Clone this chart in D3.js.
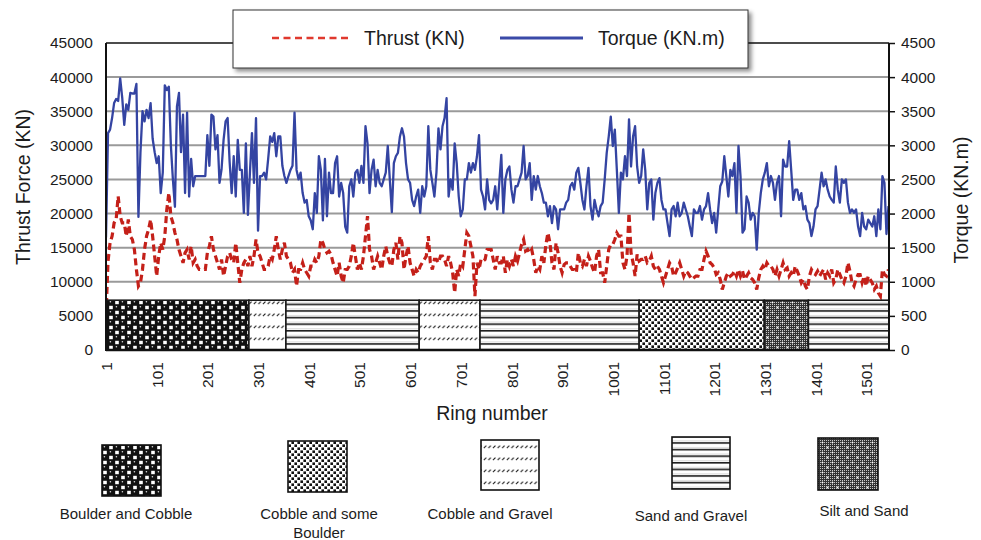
<!DOCTYPE html>
<html>
<head>
<meta charset="utf-8">
<script src="https://cdn.jsdelivr.net/npm/d3@7"></script>
<style>
  body { margin: 0; background: #fff; }
  text { font-family: "Liberation Sans", Arial, Helvetica, sans-serif; fill: #1c1c1c; }
</style>
</head>
<body>
<svg id="chart" width="981" height="540"></svg>
<script>
// Rings are sampled every 4 rings, starting at ring 1.
const firstRing = 1;
const ringStep = 4;
const lastRing = 1546;

// Cutter-head torque (KN.m), right axis
const torque = [
  1650, 3180, 3230, 3400, 3620, 3680, 3650, 3980, 3700, 3300,
  3600, 3520, 3770, 3760, 3760, 3900, 1950, 2900, 3500, 3350,
  3520, 3400, 3620, 3100, 2900, 2740, 2840, 2300, 2600, 3880,
  3810, 3860, 3000, 2500, 2100, 3570, 3770, 2900, 3450, 2300,
  3480, 2250, 2800, 2400, 2550, 2550, 2550, 2550, 2550, 2550,
  3150, 2700, 3450, 3420, 2940, 3150, 2450, 2650, 3080, 3350,
  3400, 2750, 2300, 2840, 2250, 3080, 2640, 2640, 2010, 3030,
  1980, 2600, 3180, 2450, 3400, 1750, 2550, 2550, 2600, 2500,
  2800, 3130, 3050, 3180, 2840, 3130, 3130, 2700, 2550, 2450,
  2550, 2640, 2700, 3480, 2640, 2500, 2600, 2300, 2160, 2200,
  1960, 1900, 1770, 2300, 2010, 2840, 2640, 1900, 2800, 1960,
  2600, 2300, 2300, 2740, 2840, 2250, 2450, 2300, 1810, 1720,
  2400, 2500, 2250, 2600, 2640, 2450, 2700, 2450, 3280, 3030,
  2300, 2640, 2790, 2400, 2640, 2450, 2400, 2500, 2600, 2990,
  2500, 2020, 2740, 2840, 2890, 3130, 3250, 3130, 2740, 2500,
  2450, 2200, 2110, 2250, 2350, 2010, 2400, 2250, 2400, 3280,
  2640, 2450, 2250, 2600, 3250, 2940, 3280, 3400, 3690, 2250,
  2500, 2350, 3030, 2740, 2250, 1960, 2060, 2500, 2500, 2740,
  2600, 2740, 2640, 2840, 3150, 2350, 2250, 2060, 2500, 2200,
  2150, 2200, 2400, 2060, 2450, 2860, 2010, 2500, 2640, 2690,
  2350, 2160, 2400, 2400, 2500, 2600, 2990, 2500, 2550, 2740,
  2200, 2550, 2350, 2550, 2400, 2300, 2160, 2160, 1960, 2110,
  1860, 2110, 2060, 1770, 2060, 2060, 2060, 2160, 2200, 2400,
  2450, 2350, 2600, 2670, 2450, 2200, 2060, 2400, 2670, 2110,
  1910, 2200, 2060, 1960, 2110, 2160, 2500, 2890, 3130, 3420,
  2990, 3230, 2640, 2010, 2600, 2500, 2840, 2550, 3380, 2690,
  3130, 3280, 2690, 2450, 2550, 2940, 2640, 2060, 2450, 2500,
  1910, 2300, 2450, 2520, 2200, 2060, 2060, 1860, 1670, 2060,
  2110, 1960, 2160, 1960, 2010, 2160, 2060, 1960, 1810, 1670,
  2060, 2010, 2010, 2110, 1910, 2060, 2110, 2300, 2060, 1860,
  2010, 1720, 2060, 2400, 2470, 2840, 2550, 2250, 2640, 2550,
  2740, 2010, 2990, 2550, 1720, 1770, 2250, 2160, 1910, 2010,
  1960, 1470, 2010, 2300, 2500, 2600, 2740, 2400, 2550, 2450,
  2200, 2450, 2550, 1960, 2790, 2690, 2690, 3060, 2640, 2200,
  2350, 2350, 2200, 2300, 2060, 2110, 1910, 1860, 1670, 1810,
  2060, 2110, 2350, 2600, 2400, 2500, 2350, 2250, 2200, 2160,
  2690, 2350, 2160, 2500, 2450, 2500, 2160, 2010, 2060, 2010,
  2060, 1810, 1670, 2010, 1810, 1770, 1910, 1860, 1810, 1960,
  1670, 2060, 1770, 2550, 2450, 1700, 2110
];

// Total thrust force (KN), left axis
const thrust = [
  5000, 13000, 15710, 16680, 18630, 19120, 22540, 19610, 18630, 18630,
  16680, 19120, 16680, 16200, 14730, 11800, 9370, 9850, 11800, 14730,
  16680, 17660, 19120, 16680, 13760, 10830, 13760, 15710, 14730, 16680,
  20590, 23030, 19610, 18630, 17170, 16200, 14730, 13760, 12780, 14240,
  14730, 13270, 15220, 12780, 13270, 12290, 11800, 11800, 11800, 11800,
  14240, 15220, 16680, 14730, 13760, 12780, 11800, 13270, 10830, 12290,
  13760, 14240, 13270, 12780, 15710, 12780, 9850, 11800, 12780, 13270,
  12290, 13760, 12290, 13760, 16200, 14240, 13760, 12780, 11800, 11800,
  12290, 13760, 13270, 14730, 16680, 14730, 13270, 14730, 15710, 13760,
  13270, 12780, 11320, 11800, 9370, 11800, 11800, 12780, 11800, 11320,
  10830, 12290, 12290, 13270, 12780, 13760, 16200, 15710, 14730, 14240,
  14490, 14000, 12780, 11800, 10830, 12780, 10830, 9850, 11800, 11800,
  12290, 13760, 15710, 13760, 11800, 12780, 11800, 13760, 16680, 19610,
  14730, 13760, 11800, 12780, 13760, 12780, 11800, 13760, 15220, 13760,
  12780, 12290, 14730, 15710, 13270, 16680, 15710, 11800, 13760, 15220,
  12780, 11800, 10830, 11800, 11320, 12290, 12780, 13270, 13760, 16680,
  12780, 11800, 13270, 13270, 12780, 13760, 13760, 13270, 12290, 13760,
  12780, 11320, 8390, 11800, 10830, 12780, 12290, 14730, 17170, 16680,
  15220, 13760, 7900, 12780, 11800, 13270, 13030, 13270, 14730, 14730,
  14730, 13270, 11800, 13760, 12780, 12780, 13760, 11320, 13270, 12290,
  13270, 12290, 13760, 13030, 14240, 15470, 16200, 14490, 14730, 14240,
  14730, 13270, 11320, 12290, 11800, 13760, 12780, 15470, 17170, 15710,
  12780, 11800, 15710, 14240, 12290, 11320, 12530, 12780, 12780, 12290,
  11800, 11800, 11320, 14240, 12780, 12290, 13270, 12290, 13760, 13030,
  12040, 11320, 13760, 14730, 11320, 11320, 9850, 12290, 14730, 15470,
  15470, 16200, 17170, 16680, 16680, 12780, 11800, 13760, 20100, 14240,
  12780, 10830, 14000, 13030, 13270, 13270, 13760, 12780, 13030, 13760,
  12290, 11800, 12290, 11800, 10830, 9850, 10830, 11800, 12780, 12290,
  10830, 11320, 12040, 12780, 11800, 10830, 11570, 11320, 10830, 10340,
  10590, 10830, 10830, 11800, 11800, 13270, 14490, 13760, 12780, 12530,
  12040, 11070, 11320, 10340, 8880, 9850, 10830, 11320, 10830, 11070,
  11570, 10830, 11800, 10830, 11570, 10340, 10830, 11320, 10590, 10340,
  9850, 8880, 10590, 11800, 12290, 11800, 12780, 12290, 12290, 11800,
  10830, 11800, 10830, 11800, 12780, 11800, 12040, 10830, 11320, 10830,
  12290, 11570, 10830, 9850, 10340, 9370, 8880, 10830, 11800, 11320,
  11070, 11570, 10830, 11320, 11800, 10340, 11320, 10830, 11800, 9850,
  10340, 11800, 11070, 10340, 9850, 10830, 12780, 11570, 9850, 9370,
  10340, 11070, 11070, 9850, 10830, 9370, 10830, 10340, 9850, 8880,
  9370, 8390, 7900, 11800, 11070, 10830, 11800
];

// Axis ticks
const thrustTicks = [0, 5000, 10000, 15000, 20000, 25000, 30000, 35000, 40000, 45000];
const torqueTicks = [0, 500, 1000, 1500, 2000, 2500, 3000, 3500, 4000, 4500];
const ringTicks = [1, 101, 201, 301, 401, 501, 601, 701, 801, 901, 1001, 1101, 1201, 1301, 1401, 1501];

// Geological profile along the drive (ring ranges)
const strataSoil = ["Boulder and Cobble", "Cobble and Gravel", "Sand and Gravel", "Cobble and Gravel",
                    "Sand and Gravel", "Cobble and some Boulder", "Silt and Sand", "Sand and Gravel"];
const strataFrom = [1, 283, 356, 619, 739, 1053, 1300, 1387];
const strataTo   = [283, 356, 619, 739, 1053, 1300, 1387, 1546];
const strataBandTop = 7300; // band height, in thrust units

// Soil key
const soilNames = ["Boulder and Cobble", "Cobble and some Boulder", "Cobble and Gravel", "Sand and Gravel", "Silt and Sand"];
const soilLabelLines = [["Boulder and Cobble"], ["Cobble and some", "Boulder"], ["Cobble and Gravel"], ["Sand and Gravel"], ["Silt and Sand"]];

const seriesNames = ["Thrust (KN)", "Torque (KN.m)"];

// ---------------------------------------------------------------
const svg = d3.select("#chart");
const plot = { left: 106, right: 889, top: 43, bottom: 350 };

const x = d3.scaleLinear().domain([firstRing, lastRing]).range([plot.left, plot.right]);
const yL = d3.scaleLinear().domain([0, 45000]).range([plot.bottom, plot.top]);
const yR = d3.scaleLinear().domain([0, 4500]).range([plot.bottom, plot.top]);

const RED = "#c42019", BLUE = "#3444a2";

// ---------- pattern fills for the soil types ----------
const defs = svg.append("defs");

// fine dotted texture used inside the silt pattern
const fine = defs.append("pattern").attr("id", "fine").attr("patternUnits", "userSpaceOnUse")
  .attr("width", 2).attr("height", 2);
fine.append("rect").attr("width", 2).attr("height", 2).attr("fill", "#333");
fine.append("rect").attr("width", 1).attr("height", 1).attr("fill", "#c8c8c8");

function addPattern(id, w, h, draw) {
  const p = defs.append("pattern").attr("id", id).attr("patternUnits", "userSpaceOnUse")
    .attr("width", w).attr("height", h);
  draw(p);
}

// Boulder and Cobble: dark balls with white gaps
addPattern("pat-bc", 12, 10, p => {
  p.append("rect").attr("width", 12).attr("height", 10).attr("fill", "#111");
  p.append("rect").attr("x", 7.2).attr("y", 0.8).attr("width", 3.6).attr("height", 3.4).attr("fill", "#fff");
  p.append("rect").attr("x", 1.2).attr("y", 5.8).attr("width", 3.6).attr("height", 3.4).attr("fill", "#fff");
  p.append("circle").attr("cx", 2.4).attr("cy", 1.8).attr("r", 0.8).attr("fill", "#ddd");
  p.append("circle").attr("cx", 8.4).attr("cy", 6.8).attr("r", 0.8).attr("fill", "#ddd");
});

// Cobble and some Boulder: staggered black squares
addPattern("pat-cb", 6, 6, p => {
  p.append("rect").attr("width", 6).attr("height", 6).attr("fill", "#fff");
  p.append("rect").attr("x", 0.4).attr("y", 0.4).attr("width", 2.6).attr("height", 2.6).attr("fill", "#111");
  p.append("rect").attr("x", 3.4).attr("y", 3.4).attr("width", 2.6).attr("height", 2.6).attr("fill", "#111");
});

// Cobble and Gravel: rows of short slanted dashes
addPattern("pat-cg", 4.6, 12, p => {
  p.append("rect").attr("width", 4.6).attr("height", 12).attr("fill", "#fff");
  p.append("path").attr("d", "M0.8,4.2L3.2,1.6").attr("stroke", "#222").attr("stroke-width", 1.1);
});

// Sand and Gravel: horizontal lines
addPattern("pat-sg", 10, 6.6, p => {
  p.append("rect").attr("width", 10).attr("height", 6.6).attr("fill", "#fff");
  p.append("rect").attr("y", 0).attr("width", 10).attr("height", 1.6).attr("fill", "#1e1e1e");
  p.append("rect").attr("y", 5.2).attr("width", 10).attr("height", 0.6).attr("fill", "#bbb");
});

// Silt and Sand: fine grey texture with white crosses
addPattern("pat-ss", 10, 10, p => {
  p.append("rect").attr("width", 10).attr("height", 10).attr("fill", "url(#fine)");
  p.append("path").attr("d", "M1.5,2.5h2M2.5,1.5v2M6.5,7.5h2M7.5,6.5v2")
    .attr("stroke", "#fff").attr("stroke-width", 0.9);
});

const soilFill = {
  "Boulder and Cobble": "url(#pat-bc)",
  "Cobble and some Boulder": "url(#pat-cb)",
  "Cobble and Gravel": "url(#pat-cg)",
  "Sand and Gravel": "url(#pat-sg)",
  "Silt and Sand": "url(#pat-ss)"
};

defs.append("clipPath").attr("id", "plot-clip").append("rect")
  .attr("x", plot.left).attr("y", plot.top)
  .attr("width", plot.right - plot.left).attr("height", plot.bottom - plot.top);

const shadow = defs.append("filter").attr("id", "legend-shadow")
  .attr("x", "-5%").attr("y", "-20%").attr("width", "115%").attr("height", "150%");
shadow.append("feDropShadow").attr("dx", 3).attr("dy", 3).attr("stdDeviation", 2)
  .attr("flood-color", "#000").attr("flood-opacity", 0.45);

// ---------- gridlines ----------
svg.append("g").selectAll("line")
  .data(thrustTicks.filter(v => v > 0 && v < 45000))
  .join("line")
  .attr("x1", plot.left).attr("x2", plot.right)
  .attr("y1", d => yL(d)).attr("y2", d => yL(d))
  .attr("stroke", "#9a9a9a").attr("stroke-width", 2);

// ---------- series ----------
const ringOf = i => firstRing + i * ringStep;
const lines = svg.append("g").attr("clip-path", "url(#plot-clip)");

lines.append("path")
  .datum(torque)
  .attr("fill", "none").attr("stroke", BLUE).attr("stroke-width", 2.3)
  .attr("stroke-linejoin", "round")
  .attr("d", d3.line().x((d, i) => x(ringOf(i))).y(d => yR(d)));

lines.append("path")
  .datum(thrust)
  .attr("fill", "none").attr("stroke", RED).attr("stroke-width", 3.2)
  .attr("stroke-dasharray", "7,4")
  .attr("d", d3.line().x((d, i) => x(ringOf(i))).y(d => yL(d)));

// ---------- geological band ----------
const strata = strataSoil.map((s, i) => ({ soil: s, from: strataFrom[i], to: strataTo[i] }));
svg.append("g").selectAll("rect")
  .data(strata)
  .join("rect")
  .attr("x", d => x(d.from)).attr("width", d => x(d.to) - x(d.from))
  .attr("y", yL(strataBandTop)).attr("height", yL(0) - yL(strataBandTop))
  .attr("fill", d => soilFill[d.soil])
  .attr("stroke", "#1a1a1a").attr("stroke-width", 1.6);

// ---------- frame ----------
const frame = svg.append("g").attr("stroke", "#111");
frame.append("line").attr("x1", plot.left).attr("x2", plot.right).attr("y1", plot.top).attr("y2", plot.top).attr("stroke-width", 1.5);
frame.append("line").attr("x1", plot.left).attr("x2", plot.right).attr("y1", plot.bottom).attr("y2", plot.bottom).attr("stroke-width", 2.5);
frame.append("line").attr("x1", plot.left).attr("x2", plot.left).attr("y1", plot.top).attr("y2", plot.bottom + 1).attr("stroke-width", 2);
frame.append("line").attr("x1", plot.right).attr("x2", plot.right).attr("y1", plot.top).attr("y2", plot.bottom + 1).attr("stroke-width", 2);

// ---------- axes ----------
const tickFont = 15.5;

const axL = svg.append("g").attr("transform", `translate(${plot.left},0)`)
  .call(d3.axisLeft(yL).tickValues(thrustTicks).tickSize(0).tickPadding(13).tickFormat(d3.format("d")));
axL.select(".domain").remove();
axL.selectAll("text").attr("font-size", tickFont).attr("font-family", null);

const axR = svg.append("g").attr("transform", `translate(${plot.right},0)`)
  .call(d3.axisRight(yR).tickValues(torqueTicks).tickSize(6).tickPadding(6).tickFormat(d3.format("d")));
axR.select(".domain").remove();
axR.selectAll("line").attr("stroke", "#111").attr("stroke-width", 1.5);
axR.selectAll("text").attr("font-size", tickFont).attr("font-family", null);

const axB = svg.append("g").attr("transform", `translate(0,${plot.bottom})`)
  .call(d3.axisBottom(x).tickValues(ringTicks).tickSize(0).tickFormat(d3.format("d")));
axB.select(".domain").remove();
axB.selectAll("text")
  .attr("font-size", tickFont).attr("font-family", null)
  .attr("transform", "rotate(-90)")
  .attr("text-anchor", "end")
  .attr("x", -12).attr("y", 0).attr("dy", "0.36em");

// axis titles
svg.append("text").attr("transform", "translate(30,187) rotate(-90)")
  .attr("text-anchor", "middle").attr("font-size", 19.5).text("Thrust Force (KN)");
svg.append("text").attr("transform", "translate(968,200) rotate(-90)")
  .attr("text-anchor", "middle").attr("font-size", 19.5).text("Torque (KN.m)");
svg.append("text").attr("x", 492).attr("y", 420)
  .attr("text-anchor", "middle").attr("font-size", 19.5).text("Ring number");

// ---------- series legend ----------
const lg = svg.append("g");
lg.append("rect").attr("x", 233).attr("y", 10).attr("width", 515).attr("height", 58)
  .attr("fill", "#fff").attr("stroke", "#333").attr("stroke-width", 1)
  .attr("filter", "url(#legend-shadow)");
lg.append("line").attr("x1", 272).attr("x2", 352).attr("y1", 38).attr("y2", 38)
  .attr("stroke", "#e0392e").attr("stroke-width", 2.5).attr("stroke-dasharray", "7,4.5");
lg.append("text").attr("x", 364).attr("y", 45).attr("font-size", 19.5).text(seriesNames[0]);
lg.append("line").attr("x1", 500).attr("x2", 583).attr("y1", 38).attr("y2", 38)
  .attr("stroke", "#3a4aa8").attr("stroke-width", 3);
lg.append("text").attr("x", 598).attr("y", 45).attr("font-size", 19.5).text(seriesNames[1]);

// ---------- soil key ----------
const keyBoxes = [
  { x: 102, y: 445, w: 59, h: 51, cx: 126, ty: 519 },
  { x: 288, y: 441, w: 59, h: 51, cx: 319, ty: 519 },
  { x: 481, y: 440, w: 58, h: 50, cx: 490, ty: 519 },
  { x: 672, y: 437, w: 58, h: 52, cx: 691, ty: 521 },
  { x: 818, y: 438, w: 60, h: 52, cx: 864, ty: 516 }
];
const key = svg.append("g").selectAll("g")
  .data(soilNames.map((s, i) => ({ soil: s, lines: soilLabelLines[i], ...keyBoxes[i] })))
  .join("g");
key.append("rect")
  .attr("x", d => d.x).attr("y", d => d.y).attr("width", d => d.w).attr("height", d => d.h)
  .attr("fill", d => soilFill[d.soil]).attr("stroke", "#111").attr("stroke-width", 1.6);
key.each(function (d) {
  const t = d3.select(this).append("text").attr("text-anchor", "middle").attr("font-size", 15);
  d.lines.forEach((ln, j) => {
    t.append("tspan").attr("x", d.cx).attr("y", d.ty + j * 18.5).text(ln);
  });
});
</script>
</body>
</html>
